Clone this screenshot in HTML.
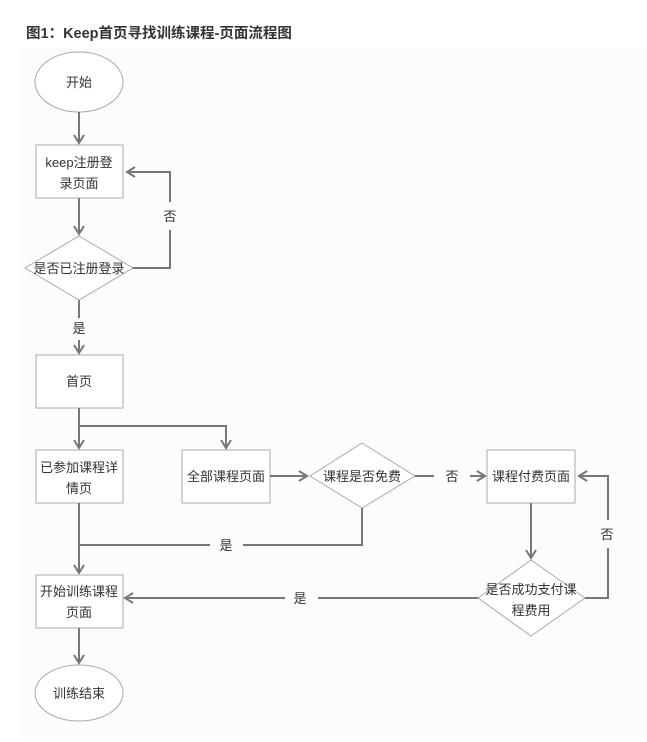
<!DOCTYPE html>
<html><head><meta charset="utf-8"><style>
html,body{margin:0;padding:0;background:#fff;}
svg text{font-family:"Liberation Sans","Noto Sans CJK SC",sans-serif;fill:#333;}
</style></head><body>
<svg width="647" height="737" viewBox="0 0 647 737" xmlns="http://www.w3.org/2000/svg">
<defs>
<marker id="b" viewBox="0 0 12 12" refX="10" refY="6" markerWidth="12" markerHeight="12" orient="auto" markerUnits="userSpaceOnUse"><path d="M2,1 L10,6 L2,11" fill="none" stroke="#777" stroke-width="2"/></marker></defs>
<rect x="20" y="48" width="627" height="689" fill="#fcfcfc"/>
<text x="26" y="38" font-size="14.5" font-weight="bold" fill="#222">图1：Keep首页寻找训练课程-页面流程图</text>
<g fill="#fff" stroke="#aaa" stroke-width="1">
<ellipse cx="79" cy="82" rx="44" ry="30"/>
<rect x="36" y="145" width="87" height="53"/>
<polygon points="79,236 133,268 79,300 25,268"/>
<rect x="36" y="355" width="87" height="53"/>
<rect x="36" y="450" width="87" height="53"/>
<rect x="182" y="450" width="88" height="53"/>
<polygon points="362,443 415,476 362,508 310,476"/>
<rect x="487" y="450" width="88" height="53"/>
<rect x="36" y="575" width="87" height="53"/>
<polygon points="531,560 585,598 531,636 478,598"/>
<ellipse cx="79" cy="693" rx="44" ry="28"/>
</g>
<g fill="none" stroke="#777" stroke-width="2">
<line x1="79" y1="112" x2="79" y2="143" marker-end="url(#b)"/>
<line x1="79" y1="198" x2="79" y2="234" marker-end="url(#b)"/>
<polyline points="133,268 170,268 170,230"/>
<polyline points="170,202 170,172 127,172" marker-end="url(#b)"/>
<line x1="79" y1="300" x2="79" y2="318"/>
<line x1="79" y1="340" x2="79" y2="353" marker-end="url(#b)"/>
<line x1="79" y1="408" x2="79" y2="448" marker-end="url(#b)"/>
<polyline points="79,426 226,426 226,448" marker-end="url(#b)"/>
<line x1="270" y1="476" x2="307" y2="476" marker-end="url(#b)"/>
<line x1="415" y1="476" x2="434" y2="476"/>
<line x1="470" y1="476" x2="485" y2="476" marker-end="url(#b)"/>
<polyline points="362,508 362,545 243,545"/>
<polyline points="210,545 79,545"/>
<line x1="79" y1="503" x2="79" y2="573" marker-end="url(#b)"/>
<line x1="531" y1="503" x2="531" y2="558" marker-end="url(#b)"/>
<polyline points="585,598 608,598 608,548"/>
<polyline points="608,520 608,476 579,476" marker-end="url(#b)"/>
<line x1="478" y1="598" x2="318" y2="598"/>
<line x1="285" y1="598" x2="125" y2="598" marker-end="url(#b)"/>
<line x1="79" y1="628" x2="79" y2="663" marker-end="url(#b)"/>
</g>
<g font-size="13" text-anchor="middle">
<text x="79" y="87">开始</text>
<text x="79" y="167">keep注册登</text>
<text x="79" y="188">录页面</text>
<text x="79" y="273">是否已注册登录</text>
<text x="170" y="221">否</text>
<text x="79" y="333">是</text>
<text x="79" y="386">首页</text>
<text x="79" y="472">已参加课程详</text>
<text x="79" y="493">情页</text>
<text x="226" y="481">全部课程页面</text>
<text x="362" y="481">课程是否免费</text>
<text x="452" y="481">否</text>
<text x="531" y="481">课程付费页面</text>
<text x="226" y="550">是</text>
<text x="607" y="539">否</text>
<text x="531" y="594">是否成功支付课</text>
<text x="531" y="615">程费用</text>
<text x="300" y="603">是</text>
<text x="79" y="596">开始训练课程</text>
<text x="79" y="617">页面</text>
<text x="79" y="698">训练结束</text>
</g>
</svg>
</body></html>
